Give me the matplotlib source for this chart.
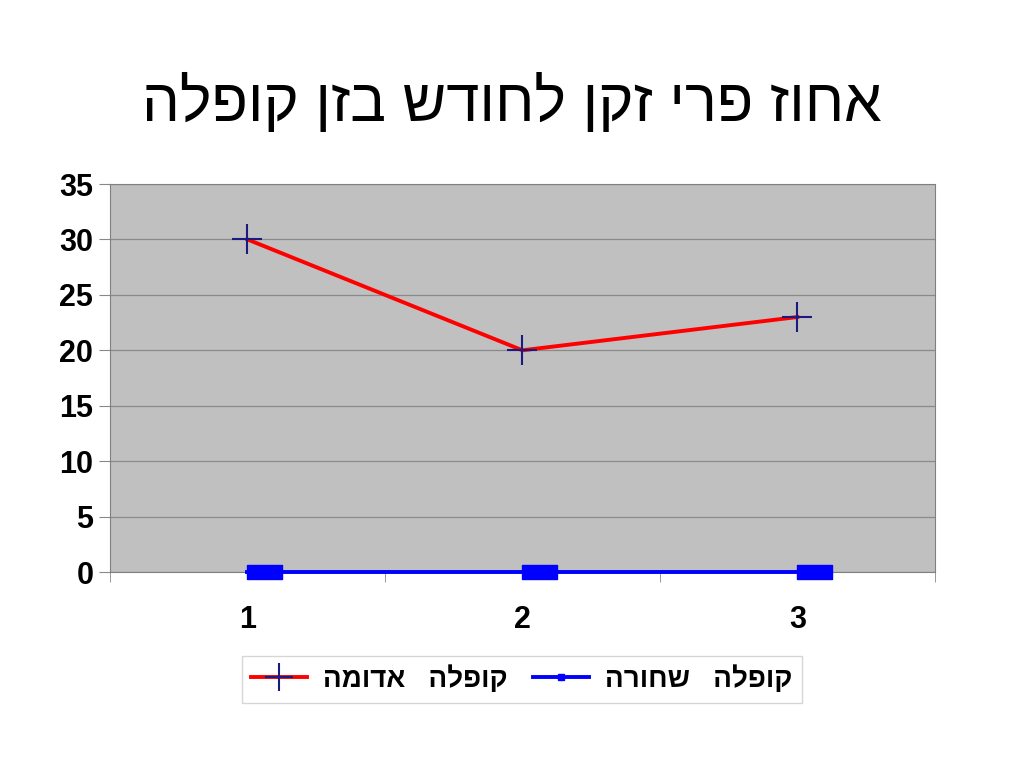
import matplotlib
matplotlib.use("Agg")
import matplotlib.pyplot as plt
from matplotlib.lines import Line2D
from matplotlib.path import Path

# Nomes e valores
TITLE = "אחוז פרי זקן לחודש בזן קופלה"
MONTHS = [1, 2, 3]
RED_LABEL = "קופלה   אדומה"
BLACK_LABEL = "קופלה   שחורה"
RED_VALUES = [30, 20, 23]
BLACK_VALUES = [0, 0, 0]
Y_TICKS = [0, 5, 10, 15, 20, 25, 30, 35]


def visual(text: str) -> str:
    """matplotlib não faz bidi: inverte o texto hebraico para ordem visual."""
    return text[::-1]


plt.rcParams["font.family"] = ["Liberation Sans", "DejaVu Sans"]

fig = plt.figure(figsize=(10.24, 7.68), dpi=100)
ax = fig.add_axes([0.1074, 0.2552, 0.8056, 0.5052])
ax.set_facecolor("#c0c0c0")

# Retângulo achatado, deslocado para a direita do ponto (como no original)
rect = Path([(0, -0.5), (2.5, -0.5), (2.5, 0.5), (0, 0.5), (0, -0.5)],
            [Path.MOVETO, Path.LINETO, Path.LINETO, Path.LINETO, Path.CLOSEPOLY])

red_style = dict(color="#ff0000", lw=2.8, marker="+",
                 markeredgecolor="#1a1a80", markeredgewidth=1.5)
blue_style = dict(color="#0000ff", lw=2.8, markerfacecolor="#0000ff",
                  markeredgecolor="#0000ff")

ax.plot(MONTHS, RED_VALUES, markersize=22, zorder=3, **red_style)
ax.plot(MONTHS, BLACK_VALUES, marker=rect, markersize=50, zorder=3,
        clip_on=False, **blue_style)

ax.set_xlim(0.5, 3.5)
ax.set_ylim(0, 35)
ax.set_yticks(Y_TICKS)
ax.set_yticklabels([str(v) for v in Y_TICKS], fontsize=22, fontweight="bold")
ax.set_xticks(MONTHS)
ax.set_xticklabels([str(m) for m in MONTHS], fontsize=22, fontweight="bold")
ax.set_xticks([0.5, 1.5, 2.5, 3.5], minor=True)
ax.tick_params(axis="x", which="major", length=0, pad=24)
ax.tick_params(axis="x", which="minor", length=7, color="#888888")
ax.tick_params(axis="y", length=8, color="#888888", pad=4)

ax.yaxis.grid(True, color="#8a8a8a", lw=0.9)
ax.set_axisbelow(True)
for side in ax.spines.values():
    side.set_color("#808080")

fig.text(0.5, 0.866, visual(TITLE), ha="center", va="center", fontsize=43)

handles = [
    Line2D([], [], markersize=20, **red_style),
    Line2D([], [], marker="s", markersize=5, **blue_style),
]
leg = ax.legend(handles, [visual(RED_LABEL), visual(BLACK_LABEL)],
                loc="center", bbox_to_anchor=(0.4994, -0.276), ncol=2,
                frameon=True, fancybox=False, edgecolor="#cccccc",
                prop={"size": 20, "weight": "bold"},
                handlelength=2.0, columnspacing=0.9, borderpad=0.35,
                handletextpad=0.6)
leg.get_frame().set_linewidth(1.0)

fig.savefig("out.png", dpi=100)
plt.close(fig)
